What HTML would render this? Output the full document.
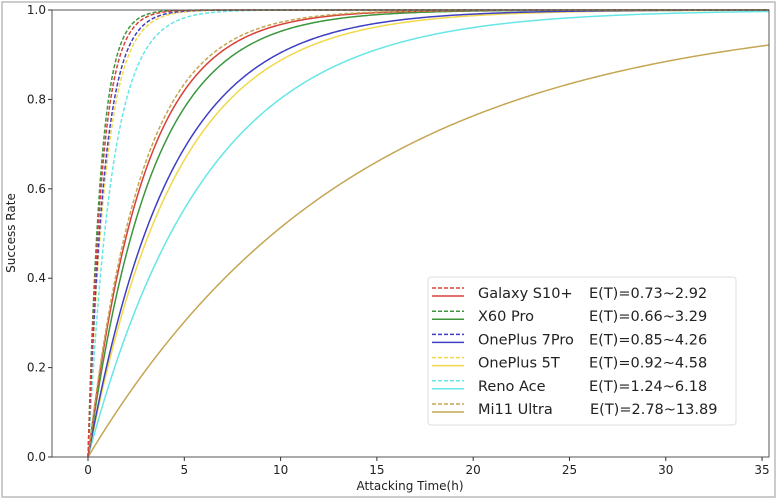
<!DOCTYPE html>
<html><head><meta charset="utf-8"><style>
body{margin:0;background:#fff;}
svg{display:block;font-family:"DejaVu Sans","Liberation Sans",sans-serif;}
</style></head><body>
<svg id="chart" width="779" height="503" viewBox="0 0 779 503">
<rect x="2" y="2" width="773" height="495" fill="#fff" stroke="#bbb" stroke-width="1.5"/>
<g id="series"></g>
<rect x="52" y="10" width="717" height="447" fill="none" stroke="#555" stroke-width="1"/>
<g id="ticks"></g>
<text x="410" y="490" font-size="12" text-anchor="middle" fill="#222">Attacking Time(h)</text>
<text x="15" y="233" font-size="12" text-anchor="middle" fill="#222" transform="rotate(-90 15 233)">Success Rate</text>
<g id="legend"></g>
</svg>
<script>
const names = ["Galaxy S10+","X60 Pro","OnePlus 7Pro","OnePlus 5T","Reno Ace","Mi11 Ultra"];
const eLow = [0.73,0.66,0.85,0.92,1.24,2.78];
const eHigh = [2.92,3.29,4.26,4.58,6.18,13.89];
const colors = ["#d8403a","#3c963c","#3f3fc4","#f2d84a","#66e6e6","#c4a652"];
const xTicks = [0,5,10,15,20,25,30,35];
const yTicks = [0,0.2,0.4,0.6,0.8,1.0];
const NS="http://www.w3.org/2000/svg";
const L=52,R=769,T=10,B=457,XMIN=-1.87,XMAX=35.36;
const sx=v=>L+(v-XMIN)/(XMAX-XMIN)*(R-L);
const sy=v=>B-v*(B-T);
function mk(tag,attrs,parent){const e=document.createElementNS(NS,tag);for(const k in attrs)e.setAttribute(k,attrs[k]);parent.appendChild(e);return e;}
const ticks=document.getElementById('ticks');
xTicks.forEach(v=>{
  const l=mk('line',{x1:sx(v),x2:sx(v),y1:B,y2:B+4,stroke:'#333'},ticks);
  
  
  const t=mk('text',{x:sx(v),y:B+17,'font-size':12,'text-anchor':'middle',fill:'#222'},ticks);
  t.textContent=v;
  
  
});
yTicks.forEach(v=>{
  const l=mk('line',{x1:L-4,x2:L,y1:sy(v),y2:sy(v),stroke:'#333'},ticks);
  
  
  const t=mk('text',{x:L-6,y:sy(v)+4,'font-size':12,'text-anchor':'end',fill:'#222'},ticks);
  t.textContent=v.toFixed(1);
  
  
});
const ser=document.getElementById('series');
function curve(E){let d='';for(let i=0;i<=400;i++){const t=XMAX*i/400;const y=1-Math.exp(-t/E);d+=(i?'L':'M')+sx(t).toFixed(2)+','+sy(y).toFixed(2);}return d;}
for(let i=names.length-1;i>=0;i--){
  const s=mk('path',{d:curve(eHigh[i]),fill:'none',stroke:colors[i],'stroke-width':1.5},ser);
  
  
}
for(let i=names.length-1;i>=0;i--){
  const s=mk('path',{d:curve(eLow[i]),fill:'none',stroke:colors[i],'stroke-width':1.5,'stroke-dasharray':'4,2'},ser);
  
  
}
const lg=document.getElementById('legend');
const box=mk('rect',{x:428,y:277,width:308,height:148,rx:3,fill:'#fff','fill-opacity':0.9,stroke:'#ddd'},lg);


names.forEach((n,i)=>{
  const y=292+i*23.2;
  const g=mk('g',{},lg);
  
  
  mk('line',{x1:432,x2:464,y1:y-4,y2:y-4,stroke:colors[i],'stroke-width':1.5,'stroke-dasharray':'4,2'},g);
  mk('line',{x1:432,x2:464,y1:y+4,y2:y+4,stroke:colors[i],'stroke-width':1.5},g);
  const t=mk('text',{x:478,y:y+6,'font-size':14.5,fill:'#222'},g);
  t.textContent=n;
  const t2=mk('text',{x:i==5?590:589,y:y+6,'font-size':14.5,fill:'#222'},g);
  t2.textContent='E(T)='+eLow[i].toFixed(2)+'~'+eHigh[i].toFixed(2);
});
</script>
</body></html>
